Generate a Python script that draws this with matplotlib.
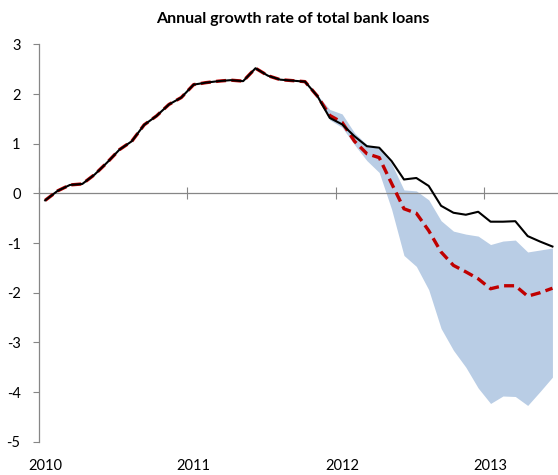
import numpy as np
import matplotlib.pyplot as plt
import matplotlib.transforms as mtransforms

plt.rcParams['font.family'] = ['Lato', 'DejaVu Sans']
plt.rcParams['axes.unicode_minus'] = False

# monthly observations, Jan 2010 onwards
actual = [-0.14, 0.05, 0.17, 0.19, 0.38, 0.62, 0.88, 1.05, 1.38, 1.56, 1.79, 1.93,
          2.19, 2.23, 2.26, 2.28, 2.26, 2.52, 2.37, 2.29, 2.27, 2.25, 1.96, 1.52,
          1.39, 1.15, 0.95, 0.92, 0.65, 0.28, 0.31, 0.15, -0.25, -0.39, -0.43, -0.37,
          -0.57, -0.57, -0.56, -0.86, -0.97, -1.07]

forecast = [-0.14, 0.05, 0.17, 0.19, 0.38, 0.62, 0.88, 1.05, 1.38, 1.56, 1.79, 1.93,
            2.19, 2.23, 2.26, 2.28, 2.26, 2.52, 2.37, 2.29, 2.27, 2.25, 1.96, 1.57,
            1.43, 1.05, 0.80, 0.72, 0.20, -0.31, -0.40, -0.75, -1.18, -1.45, -1.58, -1.72,
            -1.92, -1.86, -1.86, -2.07, -2.00, -1.91]

# uncertainty band, from month index 21
band_start = 21
band_upper = [2.25, 1.98, 1.69, 1.60, 1.22, 0.98, 0.90, 0.60, 0.07, 0.05, -0.13,
              -0.55, -0.76, -0.82, -0.86, -1.03, -0.96, -0.94, -1.18, -1.14, -1.10]
band_lower = [2.25, 1.96, 1.48, 1.33, 0.98, 0.66, 0.42, -0.32, -1.25, -1.47, -1.94,
              -2.72, -3.16, -3.50, -3.92, -4.23, -4.08, -4.09, -4.27, -3.99, -3.70]

year_labels = ['2010', '2011', '2012', '2013']
year_idx = [0, 12, 24, 36]

x = np.arange(len(actual))
xb = np.arange(band_start, band_start + len(band_upper))

fig = plt.figure(figsize=(5.58, 4.75), dpi=100)
ax = fig.add_axes([39 / 558, 1 - 441.7 / 475, 1 - 39 / 558, (441.7 - 44.4) / 475])

ax.fill_between(xb, band_lower, band_upper, color='#B9CDE5', linewidth=0, zorder=1)
ax.plot(x, forecast, color='#C00000', lw=2.4, linestyle=(0, (3, 1.6)), zorder=3)
ax.plot(x, actual, color='black', lw=1.5, zorder=4)

ax.set_xlim(-0.5, 41.45)
ax.set_ylim(-5, 3)

gray = '#868686'
for s in ['top', 'right']:
    ax.spines[s].set_visible(False)
ax.spines['bottom'].set_position(('data', 0))
ax.spines['bottom'].set_color(gray)
ax.spines['left'].set_color(gray)
ax.spines['bottom'].set_linewidth(0.9)
ax.spines['left'].set_linewidth(0.9)

ax.set_yticks(range(-5, 4))
ax.tick_params(axis='y', direction='out', length=4.3, width=0.8, color=gray,
               pad=9, labelsize=10.5)
ax.set_xticks([i - 0.5 for i in year_idx])
ax.set_xticklabels([])
ax.tick_params(axis='x', direction='inout', length=8, width=0.8, color=gray)

trans = mtransforms.blended_transform_factory(ax.transData, ax.transAxes)
for i, lab in zip(year_idx, year_labels):
    ax.text(i, -0.061, lab, transform=trans, ha='center', va='center', fontsize=10.5)

fig.text(293 / 558, 1 - 19 / 475, 'Annual growth rate of total bank loans',
         ha='center', va='center', fontsize=11.5, fontweight='bold')

fig.savefig('out.png', dpi=100)
